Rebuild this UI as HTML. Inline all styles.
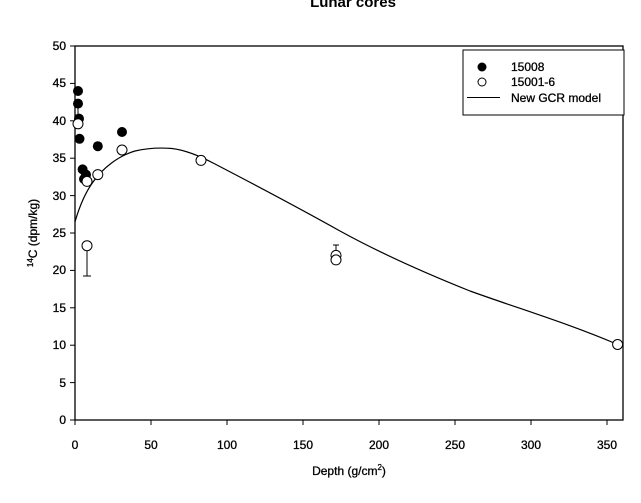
<!DOCTYPE html>
<html><head><style>body{margin:0;background:#fff}svg{display:block}</style></head><body>
<svg width="641" height="503" xmlns="http://www.w3.org/2000/svg" font-family="Liberation Sans, Arial, sans-serif">
<text x="353" y="7" font-size="15" font-weight="bold" text-anchor="middle">Lunar cores</text>
<rect x="75" y="46" width="548" height="374" fill="none" stroke="#000" stroke-width="1.3"/>
<g stroke="#000" stroke-width="1">
<line x1="70" y1="420" x2="75" y2="420"/><line x1="70" y1="382.6" x2="75" y2="382.6"/><line x1="70" y1="345.2" x2="75" y2="345.2"/><line x1="70" y1="307.8" x2="75" y2="307.8"/><line x1="70" y1="270.4" x2="75" y2="270.4"/><line x1="70" y1="233" x2="75" y2="233"/><line x1="70" y1="195.6" x2="75" y2="195.6"/><line x1="70" y1="158.2" x2="75" y2="158.2"/><line x1="70" y1="120.8" x2="75" y2="120.8"/><line x1="70" y1="83.4" x2="75" y2="83.4"/><line x1="70" y1="46" x2="75" y2="46"/>
<line x1="75" y1="420" x2="75" y2="425"/><line x1="151" y1="420" x2="151" y2="425"/><line x1="227" y1="420" x2="227" y2="425"/><line x1="303" y1="420" x2="303" y2="425"/><line x1="379" y1="420" x2="379" y2="425"/><line x1="455" y1="420" x2="455" y2="425"/><line x1="531" y1="420" x2="531" y2="425"/><line x1="607" y1="420" x2="607" y2="425"/>
</g>
<g font-size="12" text-anchor="end" stroke="#000" stroke-width="0.3">
<text x="66" y="424">0</text><text x="66" y="387">5</text><text x="66" y="349">10</text><text x="66" y="312">15</text><text x="66" y="274">20</text><text x="66" y="237">25</text><text x="66" y="200">30</text><text x="66" y="162">35</text><text x="66" y="125">40</text><text x="66" y="87">45</text><text x="66" y="50">50</text>
</g>
<g font-size="12" text-anchor="middle" stroke="#000" stroke-width="0.3">
<text x="75" y="449">0</text><text x="151" y="449">50</text><text x="227" y="449">100</text><text x="303" y="449">150</text><text x="379" y="449">200</text><text x="455" y="449">250</text><text x="531" y="449">300</text><text x="607" y="449">350</text>
<text x="349" y="475">Depth (g/cm<tspan font-size="8" dy="-5">2</tspan><tspan dy="5">)</tspan></text>
</g>
<text transform="translate(37,233) rotate(-90)" font-size="12" text-anchor="middle" stroke="#000" stroke-width="0.3"><tspan font-size="8" dy="-4">14</tspan><tspan dy="4">C (dpm/kg)</tspan></text>
<path fill="none" stroke="#000" stroke-width="1.2" d="M75,221.8 C79,208 85,193 93,182 C103,168 118,156 135,151 C148,148 160,147.5 172,148.5 C185,150 198,155 215,164 C240,177 290,203 340,231 C380,253 420,271 470,291 C520,309 570,324 617.6,344.5"/>
<g stroke="#000" stroke-width="1">
<line x1="87" y1="246" x2="87" y2="276"/><line x1="83" y1="246" x2="91" y2="246"/><line x1="83" y1="276" x2="91" y2="276"/>
<line x1="336" y1="245" x2="336" y2="258"/><line x1="333" y1="245" x2="339" y2="245"/>
<line x1="78" y1="108" x2="78" y2="115"/><line x1="75" y1="115" x2="81" y2="115"/>
</g>
<g fill="#000">
<circle cx="78" cy="91" r="5"/><circle cx="78" cy="103.6" r="5"/><circle cx="79" cy="118.6" r="5"/><circle cx="79.5" cy="138.8" r="5"/><circle cx="82.6" cy="169.4" r="5"/><circle cx="86" cy="174.6" r="5"/><circle cx="84" cy="179" r="5"/><circle cx="97.8" cy="146.2" r="5"/><circle cx="122" cy="132" r="5"/>
</g>
<g fill="#fff" stroke="#000" stroke-width="1">
<circle cx="78" cy="123.8" r="5"/><circle cx="87" cy="181.4" r="5"/><circle cx="97.8" cy="174.6" r="5"/><circle cx="122" cy="150" r="5"/><circle cx="201" cy="160.4" r="5"/><circle cx="336" cy="255.4" r="5"/><circle cx="336" cy="259.9" r="5"/><circle cx="87" cy="245.7" r="5"/><circle cx="617.6" cy="344.5" r="5"/>
</g>
<rect x="463" y="50" width="161" height="65" fill="#fff" stroke="#000" stroke-width="1"/>
<circle cx="482" cy="67" r="4.5" fill="#000"/>
<circle cx="482" cy="82" r="4" fill="#fff" stroke="#000"/>
<line x1="467" y1="97.5" x2="500" y2="97.5" stroke="#000"/>
<g font-size="12" stroke="#000" stroke-width="0.3"><text x="511" y="71">15008</text><text x="511" y="86">15001-6</text><text x="511" y="102">New GCR model</text></g>
</svg>
</body></html>
